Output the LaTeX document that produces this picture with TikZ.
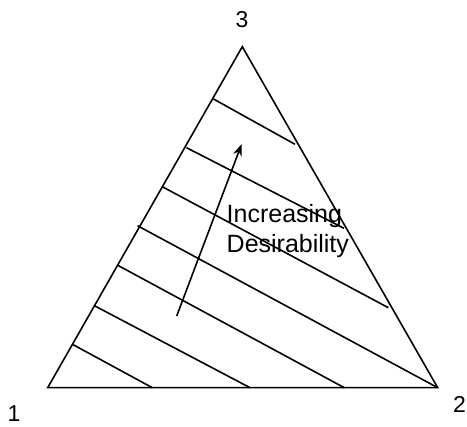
\documentclass[tikz,border=0pt]{standalone}
\usepackage{fontspec}
\setmainfont{Liberation Sans}
\usetikzlibrary{arrows.meta}
\begin{document}
\begin{tikzpicture}[x=1pt,y=-1pt,
  edge/.style={line width=1.6pt,line join=miter},
  hatch/.style={line width=1.6pt},
  vlabel/.style={font=\fontsize{23}{27}\selectfont,inner sep=0pt},
  txt/.style={font=\fontsize{25}{30.5}\selectfont,align=left,inner sep=0pt,anchor=north west}]
\useasboundingbox (0,0) rectangle (467,427);
\coordinate (A) at (47.7,387.7);
\coordinate (B) at (437.7,387.7);
\coordinate (C) at (242.3,46.7);
\draw[edge] (A) -- (B) -- (C) -- cycle;
% hatch lines
\coordinate (l1) at (213.5,99);    \coordinate (r1) at (295,144.3);
\coordinate (l2) at (186.5,147.7); \coordinate (r2) at (344,228.3);
\coordinate (l3) at (162.3,186.7); \coordinate (r3) at (388.3,307.7);
\coordinate (l4) at (137.5,225.7); \coordinate (r4) at (B);
\coordinate (l5) at (117.2,265);   \coordinate (r5) at (344.3,387.7);
\coordinate (l6) at (94.4,305.7);  \coordinate (r6) at (250,387.7);
\coordinate (l7) at (72.4,344.3);  \coordinate (r7) at (152.3,387.7);
\foreach \i in {1,...,7} \draw[hatch] (l\i) -- (r\i);
% arrow
\coordinate (as) at (176.7,316);
\coordinate (ae) at (241.7,144);
\draw[hatch,-{Stealth[length=12pt,width=9pt]}] (as) -- (ae);
% labels
\node[vlabel] (n3) at (242,19.5) {3};
\node[vlabel] (n1) at (14,414) {1};
\node[vlabel] (n2) at (459.5,404) {2};
\node[txt] (t) at (226.5,204) {Increasing\\Desirability};
\end{tikzpicture}
\end{document}
